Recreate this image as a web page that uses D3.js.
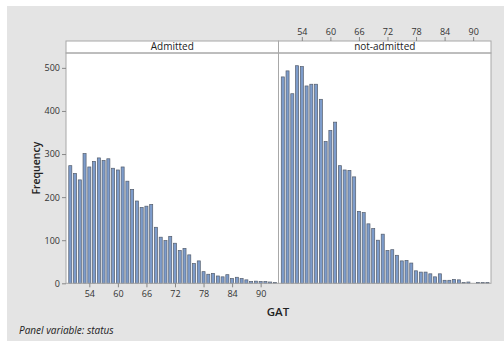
<!DOCTYPE html>
<html>
<head>
<meta charset="utf-8">
<script src="https://cdn.jsdelivr.net/npm/d3@7"></script>
<style>
  body { margin: 0; background: #fff; }
  svg { display: block; font-family: "Open Sans", "Noto Sans", sans-serif; }
</style>
</head>
<body>
<svg></svg>
<script>
// GAT scores (bins) and counts per panel
const gat = d3.range(50, 94);
const admitted = [273, 255, 240, 301, 270, 283, 291, 285, 289, 267, 263, 270, 237, 218, 191, 176, 179, 183,
  130, 107, 99, 109, 93, 76, 81, 66, 46, 52, 27, 21, 23, 17, 15, 20, 11, 14, 11, 8, 4, 5, 4, 4, 3, 2];
const notAdmitted = [479, 493, 440, 505, 503, 458, 462, 462, 427, 329, 355, 374, 273, 263, 262, 247, 167, 164,
  138, 127, 100, 114, 76, 78, 65, 52, 53, 47, 29, 26, 26, 22, 15, 22, 7, 7, 9, 8, 2, 3, 0, 2, 2, 2];
const panels = ["Admitted", "not-admitted"];
const xTicks = [54, 60, 66, 72, 78, 84, 90];
const yTicks = [0, 100, 200, 300, 400, 500];

const width = 504, height = 341;
const svg = d3.select("svg").attr("width", width).attr("height", height);

// fond gris
svg.append("rect").attr("x", 7).attr("y", 6).attr("width", width - 7).attr("height", height - 6)
  .attr("fill", "#e4e4e4");

const plotLeft = 66, panelW = 212.5, plotTop = 53, plotBottom = 283.3, stripH = 12;

const x = d3.scaleLinear().domain([49.1, 93.75]).range([0, panelW]);
const y = d3.scaleLinear().domain([0, 534.5]).range([plotBottom, plotTop]);
const barW = (x(51) - x(50)) * 0.64;

const series = [admitted, notAdmitted];

panels.forEach((name, i) => {
  const g = svg.append("g").attr("transform", `translate(${plotLeft + i * panelW},0)`);
  g.append("rect").attr("x", 0).attr("y", plotTop).attr("width", panelW).attr("height", plotBottom - plotTop)
    .attr("fill", "#fff");
  // strip
  g.append("rect").attr("x", 0).attr("y", plotTop - stripH).attr("width", panelW).attr("height", stripH)
    .attr("fill", "#fff").attr("stroke", "#a8a8a8").attr("stroke-width", 1);
  g.append("text").attr("x", panelW / 2).attr("y", plotTop - 2.6).attr("text-anchor", "middle")
    .attr("font-size", 10).attr("fill", "#222").text(name);

  g.selectAll("rect.bar")
    .data(gat.map((v, k) => ({ v, n: series[i][k] })).filter(d => d.n > 0))
    .join("rect")
    .attr("class", "bar")
    .attr("x", d => x(d.v) - barW / 2)
    .attr("width", barW)
    .attr("y", d => y(d.n))
    .attr("height", d => plotBottom - y(d.n))
    .attr("fill", "#7d9ccb")
    .attr("stroke", "#545d6c")
    .attr("stroke-width", 0.7);

  g.append("rect").attr("x", 0).attr("y", plotTop).attr("width", panelW).attr("height", plotBottom - plotTop)
    .attr("fill", "none").attr("stroke", "#a8a8a8").attr("stroke-width", 1);
});

// axe x bas (panneau gauche) et haut (panneau droit)
const xAxisB = d3.axisBottom(x).tickValues(xTicks).tickSize(4).tickPadding(3);
const gxb = svg.append("g").attr("transform", `translate(${plotLeft},${plotBottom})`).call(xAxisB);
const xAxisT = d3.axisTop(x).tickValues(xTicks).tickSize(4).tickPadding(2);
const gxt = svg.append("g").attr("transform", `translate(${plotLeft + panelW},${plotTop - stripH})`).call(xAxisT);

const yAxis = d3.axisLeft(y).tickValues(yTicks).tickSize(4).tickPadding(2);
const gy = svg.append("g").attr("transform", `translate(${plotLeft},0)`).call(yAxis);

[gxb, gxt, gy].forEach(a => {
  a.select(".domain").remove();
  a.selectAll(".tick line").attr("stroke", "#888");
  a.selectAll(".tick text").attr("font-size", 9).attr("fill", "#333")
    .attr("font-family", "\"Open Sans\", \"Noto Sans\", sans-serif");
});

svg.append("text").attr("x", 278).attr("y", 316).attr("text-anchor", "middle")
  .attr("font-size", 11.5).attr("font-weight", 600).attr("fill", "#222").text("GAT");
svg.append("text").attr("transform", `translate(40,${(plotTop + plotBottom) / 2}) rotate(-90)`)
  .attr("text-anchor", "middle").attr("font-size", 10.5).attr("font-weight", 600)
  .attr("fill", "#222").text("Frequency");
svg.append("text").attr("x", 19).attr("y", 334).attr("font-size", 10).attr("font-style", "italic")
  .attr("fill", "#222").text("Panel variable: status");
</script>
</body>
</html>
